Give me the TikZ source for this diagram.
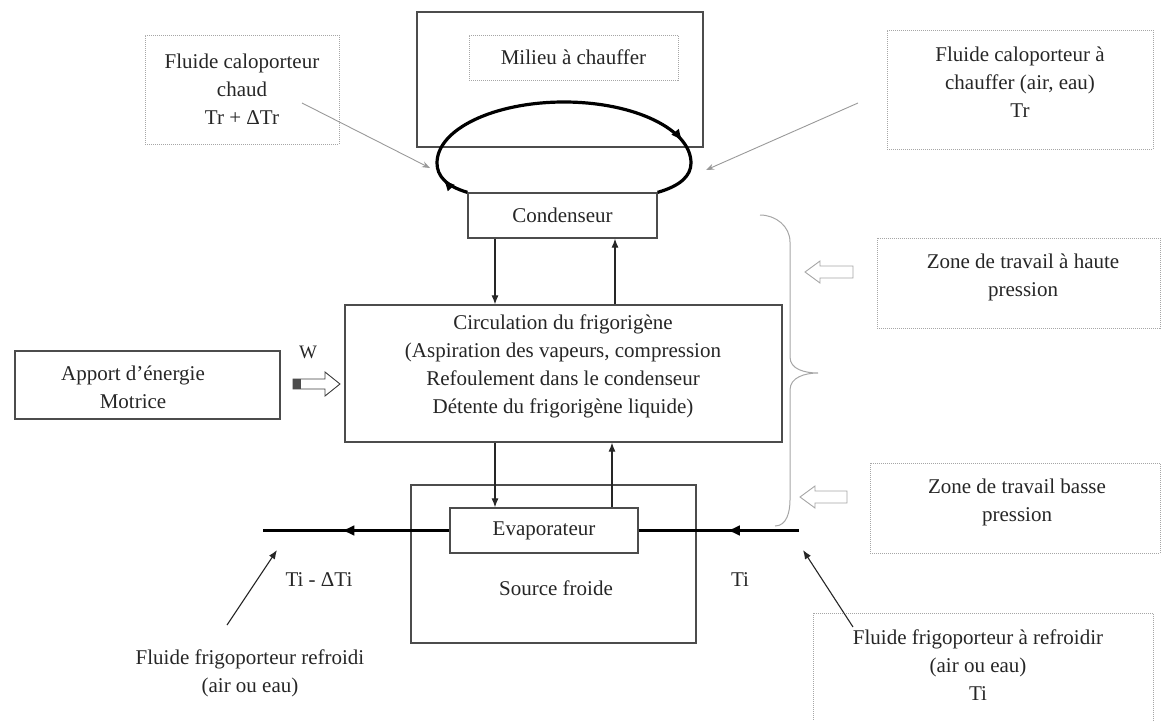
\documentclass[tikz,border=0pt]{standalone}
\usepackage{fontspec}
\setmainfont{Liberation Serif}
\usetikzlibrary{arrows.meta,decorations.markings,calc}
\begin{document}
\begin{tikzpicture}[x=1pt,y=-1pt,
  every node/.style={font=\fontsize{21}{28}\selectfont, text=black!85, inner sep=0pt, align=center},
  sbox/.style={draw=black!70, line width=1.3pt, fill=white},
  dbox/.style={draw=black!35, densely dotted, line width=1pt},
  arr/.style={draw=black!85, line width=1.1pt, -{Latex[length=9pt,width=7pt]}},
  garr/.style={draw=black!40, line width=0.9pt, -{Stealth[length=8pt,width=6pt]}},
  thickl/.style={line width=3.2pt, draw=black},
  hollow/.style={draw=black!35, line width=0.9pt, fill=white},
  brace/.style={draw=black!35, line width=1pt},
]
\useasboundingbox (0,0) rectangle (1161,720);

% ---- top area
\node[sbox, minimum width=286, minimum height=135] (milieu) at (560,79.5) {};
\node[dbox, minimum width=209, minimum height=45] (milieuin) at (573.5,57.5) {Milieu à chauffer};
\node[sbox, minimum width=189, minimum height=45] (cond) at (562.5,215.5) {Condenseur};

\node[dbox, minimum width=194, minimum height=109] (fchaud) at (242,89.5) {Fluide caloporteur\\chaud\\Tr + ΔTr};
\node[dbox, minimum width=266, minimum height=119] (fachauf) at (1020,89.5) {};
\node (tachauf) at (1020,82) {Fluide caloporteur à\\chauffer (air, eau)\\Tr};

% elliptic loop
\coordinate (elL) at (437,163);
\coordinate (elT) at (564,102);
\coordinate (elR) at (691,163);
\draw[line width=3.2pt, postaction={decorate},
  decoration={markings,
    mark=at position 0.07 with {\arrow{Latex[length=12pt,width=10pt]}},
    mark=at position 0.82 with {\arrow{Latex[length=12pt,width=10pt]}}}]
  (cond.north west) .. controls (446,186) and (437,176) .. (elL)
  .. controls (437,129.3) and (493.9,102) .. (elT)
  .. controls (634.1,102) and (691,129.3) .. (elR)
  .. controls (691,176) and (680,186) .. (cond.north east);

% grey arrows to the loop
\coordinate (gl0) at (302,103);
\coordinate (gl1) at (430,168);
\coordinate (gr0) at (858,103);
\coordinate (gr1) at (706,170);
\draw[garr] (gl0) -- (gl1);
\draw[garr] (gr0) -- (gr1);

% ---- middle
\node[sbox, minimum width=437, minimum height=137] (circ) at (563.5,373.5) {};
\node (tcirc) at (563,366) {Circulation du frigorigène\\(Aspiration des vapeurs, compression\\Refoulement dans le condenseur\\Détente du frigorigène liquide)};

\node[sbox, minimum width=265, minimum height=68] (apport) at (147.5,385) {};
\node (tapport) at (133,387) {Apport d’énergie\\Motrice};
\node[font=\fontsize{19}{22}\selectfont] (w) at (308,352) {W};

% hollow W arrow
\coordinate (wA) at (293,384);
\draw[draw=black!75, line width=0.9pt, fill=white] ($(wA)+(0,-5)$) -- ++(32,0) -- ++(0,-7) -- ($(wA)+(47,0)$) -- ($(wA)+(32,12)$) -- ++(0,-7) -- ($(wA)+(0,5)$) -- cycle;
\fill[black!70] ($(wA)+(0,-5)$) rectangle ($(wA)+(8,5)$);

% ---- right side
\draw[brace] (760,215) to[out=0,in=90] (790,242) -- (790,357) to[out=-90,in=180] (818,373)
  to[out=180,in=90] (790,390) -- (790,500) to[out=-90,in=0] (775,526);

\node[dbox, minimum width=283, minimum height=90] (zhaute) at (1018.5,283) {};
\node (tzhaute) at (1023,277) {Zone de travail à haute\\pression};
\coordinate (hA) at (805,272);
\draw[hollow] (hA) -- ++(15,-11) -- ++(0,5) -- ++(33,0) -- ++(0,12) -- ++(-33,0) -- ++(0,5) -- cycle;

\node[dbox, minimum width=290, minimum height=90] (zbasse) at (1015,508) {};
\node (tzbasse) at (1017,502) {Zone de travail basse\\pression};
\coordinate (bA) at (800,497);
\draw[hollow] (bA) -- ++(15,-11) -- ++(0,5) -- ++(32,0) -- ++(0,12) -- ++(-32,0) -- ++(0,5) -- cycle;

% ---- bottom
\node[sbox, fill=none, minimum width=285, minimum height=158] (source) at (553.5,564) {};
\node (tsource) at (556,588) {Source froide};
\node[sbox, minimum width=188, minimum height=45] (evap) at (544,530.5) {Evaporateur};

\coordinate (xa) at (495,0);
\coordinate (xb) at (615,0);
\coordinate (xc) at (612,0);
\draw[arr] (cond.south -| xa) -- (circ.north -| xa);
\draw[arr] (circ.north -| xb) -- (cond.south -| xb);
\draw[arr] (circ.south -| xa) -- (evap.north -| xa);
\draw[arr] (evap.north -| xc) -- (circ.south -| xc);

\coordinate (lend) at (263,530.5);
\coordinate (rend) at (799,530.5);
\draw[thickl, postaction={decorate}, decoration={markings,
  mark=at position 0.58 with {\arrow{Latex[length=13pt,width=11pt]}}}] (evap.west) -- (lend);
\draw[thickl, postaction={decorate}, decoration={markings,
  mark=at position 0.45 with {\arrow{Latex[length=13pt,width=11pt]}}}] (rend) -- (evap.east);

\node (tidti) at (319,580) {Ti - ΔTi};
\node (ti) at (740,580) {Ti};

\node (trefr) at (250,673) {Fluide frigoporteur refroidi\\(air ou eau)};
\coordinate (bl0) at (227,625);
\coordinate (bl1) at (277,550);
\draw[arr] (bl0) -- (bl1);

\node[dbox, minimum width=340, minimum height=112] (farefr) at (983,669) {};
\node (tarefr) at (978,665) {Fluide frigoporteur à refroidir\\(air ou eau)\\Ti};
\coordinate (br0) at (853,627);
\coordinate (br1) at (803,550);
\draw[arr] (br0) -- (br1);
\end{tikzpicture}
\end{document}
